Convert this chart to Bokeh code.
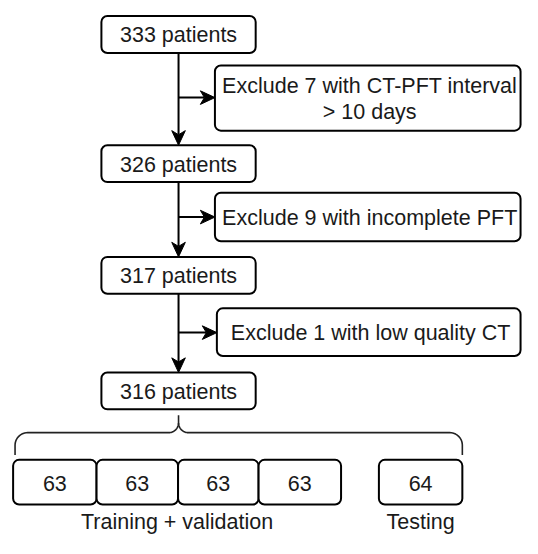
import numpy as np
from bokeh.plotting import figure
from bokeh.models import Range1d
from bokeh.embed import file_html
from bokeh.resources import INLINE
from bokeh.core.properties import value

# ---------------- data ----------------
patient_counts = [333, 326, 317, 316]
excluded_counts = [7, 9, 1]
exclusion_reasons = [
    ["Exclude 7 with CT-PFT interval", "> 10 days"],
    ["Exclude 9 with incomplete PFT"],
    ["Exclude 1 with low quality CT"],
]
split_counts = [63, 63, 63, 63, 64]
group_labels = ["Training + validation", "Testing"]

# ---------------- layout (reference pixel units) ----------------
main_x0, main_x1 = 104, 263
main_top = [16, 149, 264, 383]
main_h = 38
excl_x0 = [221, 221, 223]
excl_x1 = 536
excl_top = [67, 198, 317]
excl_bot = [134, 248, 366]
branch_y = [100, 223, 342]
split_x0 = [13, 99, 183, 266, 390]
split_x1 = [99, 183, 266, 351, 476]
split_top, split_bot = 473, 519
brace_top, brace_mid, brace_end = 427, 445, 468
group_y = 537
group_cx = [(split_x0[0] + split_x1[3]) / 2, (split_x0[4] + split_x1[4]) / 2]

FONT = value("Liberation Sans")
TXT = "#1a1a1a"
FS = "21.5px"

p = figure(width=522, height=538, x_range=Range1d(0, 538), y_range=Range1d(554, 0),
           output_backend="svg", toolbar_location=None, min_border=0,
           outline_line_color=None, background_fill_color="white", border_fill_color="white")
p.axis.visible = False
p.grid.visible = False

trunk_x = (main_x0 + main_x1) / 2

# main boxes
mb = [t + main_h for t in main_top]
p.quad(left=[main_x0] * 4, right=[main_x1] * 4, top=main_top, bottom=mb,
       fill_color="white", line_color="black", line_width=2, border_radius=6)
p.text(x=[trunk_x] * 4, y=[(t + b) / 2 + 1 for t, b in zip(main_top, mb)],
       text=[f"{c} patients" for c in patient_counts], text_align="center",
       text_baseline="middle", text_font=FONT, text_font_size=FS, text_color=TXT)

# exclusion boxes
p.quad(left=excl_x0, right=[excl_x1] * 3, top=excl_top, bottom=excl_bot,
       fill_color="white", line_color="black", line_width=2, border_radius=6)
tx, ty, tt = [], [], []
line_h = 27
for x0, t, b, lines in zip(excl_x0, excl_top, excl_bot, exclusion_reasons):
    cy = (t + b) / 2 + 1
    n = len(lines)
    for i, s in enumerate(lines):
        tx.append((x0 + excl_x1) / 2 + 2)
        ty.append(cy + (i - (n - 1) / 2) * line_h)
        tt.append(s)
p.text(x=tx, y=ty, text=tt, text_align="center", text_baseline="middle",
       text_font=FONT, text_font_size=FS, text_color=TXT)

# arrows
L, W, NOTCH = 15, 14, 0.72
seg_x0, seg_y0, seg_x1, seg_y1 = [], [], [], []
hx, hy = [], []

def arrow(x0, y0, x1, y1):
    d = np.array([x1 - x0, y1 - y0], float)
    d /= np.linalg.norm(d)
    nrm = np.array([-d[1], d[0]])
    tip = np.array([x1, y1], float)
    back = tip - L * d
    notch = tip - NOTCH * L * d
    pts = [tip, back + W / 2 * nrm, notch, back - W / 2 * nrm]
    hx.append([q[0] for q in pts])
    hy.append([q[1] for q in pts])
    seg_x0.append(x0); seg_y0.append(y0); seg_x1.append(notch[0]); seg_y1.append(notch[1])

for i in range(3):
    arrow(trunk_x, mb[i], trunk_x, main_top[i + 1])
    arrow(trunk_x, branch_y[i], excl_x0[i], branch_y[i])

p.segment(x0=seg_x0, y0=seg_y0, x1=seg_x1, y1=seg_y1, line_color="black", line_width=2)
p.patches(xs=hx, ys=hy, fill_color="black", line_color="black", line_width=1)

# brace
def arc(cx, cy, r, a0, a1, n=14):
    a = np.linspace(a0, a1, n)
    return list(cx + r * np.cos(a)), list(cy + r * np.sin(a))

r1, r2 = 13, 10
Lx, Rx, C = split_x0[0] + 2, split_x1[4], trunk_x
ax1, ay1 = arc(Lx + r1, brace_mid + r1, r1, np.pi, 1.5 * np.pi)
ax2, ay2 = arc(C - r2, brace_mid - r2, r2, 0.5 * np.pi, 0)
left_x = [Lx] + ax1 + ax2 + [C]
left_y = [brace_end] + ay1 + ay2 + [brace_top]
bx1, by1 = arc(C + r2, brace_mid - r2, r2, np.pi, 0.5 * np.pi)
bx2, by2 = arc(Rx - r1, brace_mid + r1, r1, 1.5 * np.pi, 2 * np.pi)
right_x = bx1 + bx2 + [Rx]
right_y = by1 + by2 + [brace_end]
p.multi_line(xs=[left_x, right_x], ys=[left_y, right_y], line_color="#222222",
             line_width=1.6, line_join="round")

# split boxes
p.quad(left=split_x0, right=split_x1, top=[split_top] * 5, bottom=[split_bot] * 5,
       fill_color="white", line_color="black", line_width=2, border_radius=6)
p.text(x=[(a + b) / 2 for a, b in zip(split_x0, split_x1)], y=[(split_top + split_bot) / 2 + 1] * 5,
       text=[str(v) for v in split_counts], text_align="center", text_baseline="middle",
       text_font=FONT, text_font_size=FS, text_color=TXT)

p.text(x=group_cx, y=[group_y] * 2, text=group_labels, text_align="center",
       text_baseline="middle", text_font=FONT, text_font_size=FS, text_color=TXT)

open("out.html", "w").write(file_html(p, INLINE))
